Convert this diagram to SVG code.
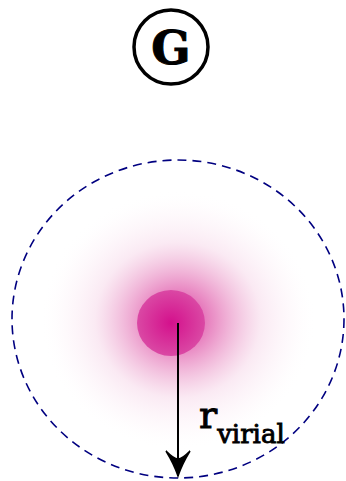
<svg xmlns="http://www.w3.org/2000/svg" width="346" height="481" viewBox="0 0 346 481">
<defs>
<radialGradient id="glow" cx="0.5" cy="0.5" r="0.5">
<stop offset="0" stop-color="#d40f8c" stop-opacity="0.85"/>
<stop offset="0.3" stop-color="#d62890" stop-opacity="0.45"/>
<stop offset="0.6" stop-color="#e070b0" stop-opacity="0.15"/>
<stop offset="0.85" stop-color="#f0b0d4" stop-opacity="0.05"/>
<stop offset="1" stop-color="#ffffff" stop-opacity="0"/>
</radialGradient>
<radialGradient id="core" cx="0.5" cy="0.5" r="0.5">
<stop offset="0" stop-color="#d4108c"/>
<stop offset="1" stop-color="#da48a4"/>
</radialGradient>
<marker id="arr" viewBox="0 0 26 26" markerWidth="26" markerHeight="26" refX="25" refY="13" orient="auto" markerUnits="userSpaceOnUse" overflow="visible">
<path d="M0,1 Q13,9 25,13 Q13,17 0,25 Q8,17 8,13 Q8,9 0,1 Z" fill="#000" stroke="#000" stroke-width="1.5" stroke-linejoin="miter"/>
</marker>
<style>
.lbl{font-family:"DejaVu Serif",serif;fill:#000}
</style>
</defs>
<g id="G-node">
<circle cx="171" cy="47" r="37" fill="#fff" stroke="#000" stroke-width="3.5"/>
<text class="lbl" x="171" y="64" text-anchor="middle" font-size="46" font-weight="bold" stroke="#000" stroke-width="1">G</text>
</g>
<g id="halo">
<ellipse cx="178" cy="320" rx="138" ry="130" fill="url(#glow)"/>
<ellipse cx="178" cy="319" rx="166" ry="159" fill="none" stroke="#000080" stroke-width="1.6" stroke-dasharray="9,6"/>
</g>
<g id="core-node">
<ellipse cx="171" cy="323" rx="34" ry="33" fill="url(#core)"/>
</g>
<g id="connectors">
<line x1="178" y1="323" x2="178" y2="476" stroke="#000" stroke-width="2" marker-end="url(#arr)"/>
</g>
<g id="label">
<text class="lbl" x="199" y="428" font-size="38" stroke="#000" stroke-width="0.9">r<tspan font-size="26" dy="15">virial</tspan></text>
</g>
</svg>
